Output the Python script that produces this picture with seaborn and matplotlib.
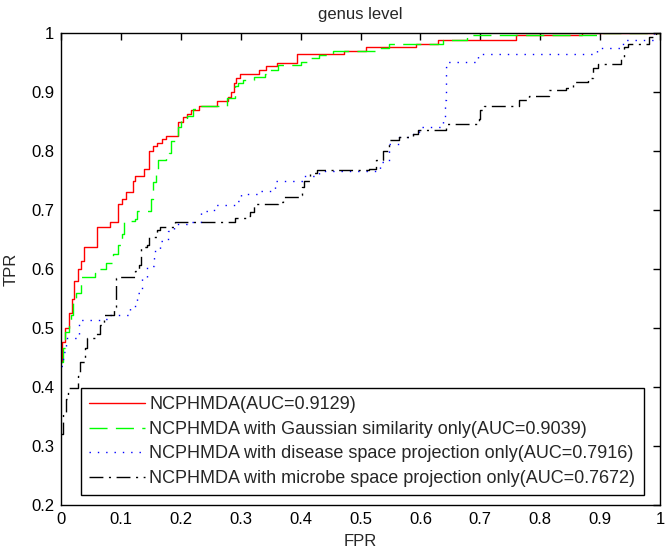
import numpy as np
import pandas as pd
import matplotlib
matplotlib.use("Agg")
import matplotlib.pyplot as plt
import seaborn as sns

# ROC step points (FPR where the curve jumps, new TPR)
red_fpr = [0, 0.002, 0.007, 0.013, 0.018, 0.022, 0.028, 0.033, 0.038, 0.06, 0.082, 0.095,
           0.102, 0.108, 0.12, 0.123, 0.138, 0.147, 0.154, 0.16, 0.168, 0.175, 0.195, 0.203,
           0.21, 0.217, 0.23, 0.26, 0.279, 0.284, 0.288, 0.292, 0.298, 0.33, 0.342, 0.36,
           0.394, 0.473, 0.51, 0.593, 0.629, 0.76, 0.869, 1.0]
red_tpr = [0.443, 0.477, 0.50, 0.525, 0.55, 0.58, 0.60, 0.614, 0.638, 0.672, 0.68, 0.71,
           0.718, 0.73, 0.749, 0.757, 0.77, 0.80, 0.808, 0.814, 0.82, 0.826, 0.85, 0.857,
           0.863, 0.87, 0.876, 0.885, 0.892, 0.90, 0.915, 0.923, 0.93, 0.937, 0.944, 0.95,
           0.965, 0.97, 0.976, 0.982, 0.988, 0.996, 1.0, 1.0]

green_fpr = [0, 0.003, 0.007, 0.014, 0.016, 0.02, 0.025, 0.034, 0.056, 0.064, 0.075, 0.087,
             0.095, 0.101, 0.106, 0.124, 0.127, 0.151, 0.154, 0.158, 0.162, 0.175, 0.18, 0.183,
             0.195, 0.2, 0.21, 0.22, 0.228, 0.277, 0.29, 0.295, 0.304, 0.323, 0.34, 0.343,
             0.363, 0.40, 0.415, 0.431, 0.454, 0.532, 0.548, 0.638, 0.677, 0.9, 1.0]
green_tpr = [0.443, 0.466, 0.494, 0.508, 0.522, 0.545, 0.56, 0.587, 0.593, 0.60, 0.61, 0.626,
             0.64, 0.66, 0.682, 0.685, 0.698, 0.718, 0.747, 0.77, 0.784, 0.79, 0.797, 0.817,
             0.84, 0.855, 0.86, 0.872, 0.876, 0.89, 0.91, 0.915, 0.92, 0.925, 0.93, 0.937,
             0.945, 0.951, 0.957, 0.962, 0.97, 0.974, 0.982, 0.988, 0.996, 1.0, 1.0]

blue_fpr = [0, 0.003, 0.009, 0.03, 0.065, 0.082, 0.116, 0.127, 0.135, 0.144, 0.155, 0.166,
            0.178, 0.189, 0.211, 0.234, 0.256, 0.29, 0.301, 0.329, 0.357, 0.405, 0.43, 0.532,
            0.548, 0.565, 0.587, 0.598, 0.638, 0.641, 0.643, 0.646, 0.696, 0.894, 0.939, 0.99, 1.0]
blue_tpr = [0.435, 0.46, 0.483, 0.514, 0.516, 0.522, 0.538, 0.56, 0.584, 0.605, 0.63, 0.648,
            0.665, 0.677, 0.68, 0.698, 0.708, 0.716, 0.727, 0.733, 0.75, 0.758, 0.766, 0.781,
            0.812, 0.824, 0.829, 0.84, 0.858, 0.886, 0.942, 0.951, 0.964, 0.975, 0.989, 1.0, 1.0]

black_fpr = [0, 0.004, 0.008, 0.012, 0.029, 0.031, 0.04, 0.043, 0.057, 0.065, 0.071, 0.088,
             0.092, 0.096, 0.124, 0.13, 0.133, 0.144, 0.147, 0.161, 0.166, 0.191, 0.29, 0.312,
             0.315, 0.323, 0.363, 0.371, 0.397, 0.402, 0.405, 0.416, 0.428, 0.515, 0.526, 0.537,
             0.548, 0.565, 0.587, 0.596, 0.643, 0.698, 0.7, 0.706, 0.765, 0.781, 0.815, 0.843,
             0.854, 0.879, 0.888, 0.896, 0.935, 0.94, 0.946, 0.982, 0.994, 1.0]
black_tpr = [0.32, 0.357, 0.38, 0.398, 0.418, 0.443, 0.466, 0.483, 0.49, 0.505, 0.522, 0.536,
             0.584, 0.587, 0.596, 0.606, 0.637, 0.64, 0.654, 0.666, 0.672, 0.68, 0.686, 0.69,
             0.696, 0.711, 0.714, 0.722, 0.725, 0.739, 0.75, 0.762, 0.767, 0.77, 0.784, 0.8,
             0.818, 0.824, 0.829, 0.835, 0.846, 0.855, 0.869, 0.877, 0.886, 0.894, 0.903, 0.907,
             0.917, 0.923, 0.94, 0.948, 0.959, 0.976, 0.982, 0.993, 1.0, 1.0]

labels = ["NCPHMDA(AUC=0.9129)",
          "NCPHMDA with Gaussian similarity only(AUC=0.9039)",
          "NCPHMDA with disease space projection only(AUC=0.7916)",
          "NCPHMDA with microbe space projection only(AUC=0.7672)"]

sns.set_style("white")
plt.rcParams["font.family"] = ["Liberation Sans", "DejaVu Sans"]

fig = plt.figure(figsize=(6.66, 5.54), dpi=100)
ax = fig.add_axes([0.0916, 0.0884, 0.8994, 0.852])

curves = [
    (red_fpr, red_tpr, "#ff0000", "-"),
    (green_fpr, green_tpr, "#00ff00", (0, (13, 6))),
    (blue_fpr, blue_tpr, "#0000ff", (0, (1, 5))),
    (black_fpr, black_tpr, "#000000", (0, (10, 4, 1.5, 4))),
]
for (fx, ty, col, ls), lab in zip(curves, labels):
    df = pd.DataFrame({"FPR": fx, "TPR": ty})
    sns.lineplot(data=df, x="FPR", y="TPR", ax=ax, color=col, linestyle=ls,
                 linewidth=1.0, drawstyle="steps-post", estimator=None, sort=False,
                 label=lab)

ax.set_xlim(0, 1)
ax.set_ylim(0.2, 1)
ax.set_xticks(np.arange(0, 1.01, 0.1))
ax.set_yticks(np.arange(0.2, 1.01, 0.1))
ax.set_xticklabels(["0", "0.1", "0.2", "0.3", "0.4", "0.5", "0.6", "0.7", "0.8", "0.9", "1"])
ax.set_yticklabels(["0.2", "0.3", "0.4", "0.5", "0.6", "0.7", "0.8", "0.9", "1"])
ax.tick_params(axis="both", which="both", direction="in", length=5, width=1,
               top=True, right=True, labelsize=12, colors="black", pad=5)
for s in ax.spines.values():
    s.set_color("black")
    s.set_linewidth(1)

ax.set_xlabel("FPR", fontsize=12, labelpad=5)
ax.set_ylabel("TPR", fontsize=12, labelpad=9)
ax.set_title("genus level", fontsize=12, pad=10)

leg = ax.legend(loc="lower left", bbox_to_anchor=(0.033, 0.021), borderaxespad=0,
                fontsize=13, handlelength=3.1, handletextpad=0.25, labelspacing=0.42,
                fancybox=False, framealpha=1, edgecolor="black", borderpad=0.45)
leg.get_frame().set_linewidth(1)

fig.savefig("out.png", dpi=100)
